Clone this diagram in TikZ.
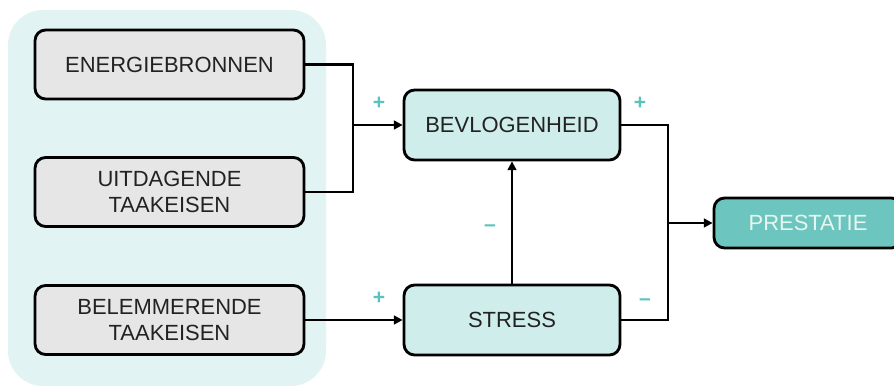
\documentclass[tikz,border=0pt]{standalone}
\usepackage{fontspec}
\setmainfont{Liberation Sans}
\usetikzlibrary{positioning, arrows.meta}
\definecolor{bgTeal}{HTML}{E1F3F2}
\definecolor{boxGray}{HTML}{E6E6E6}
\definecolor{boxTeal}{HTML}{CFEDEB}
\definecolor{darkTeal}{HTML}{6CC6BF}
\definecolor{signTeal}{HTML}{5CC3BC}
\definecolor{txtGray}{HTML}{222222}
\definecolor{txtLight}{HTML}{E8F6F0}

\begin{document}
\begin{tikzpicture}[x=0.02cm, y=-0.02cm,
              srcBlock/.style={
                rounded corners=6pt, line width=1.6pt, %inner sep=1pt,
                draw, fill=boxGray, text=txtGray, align=center,
                font=\fontsize{12.5}{15}\selectfont,
                minimum height=1.38cm, minimum width=5.38cm
             },
              midBlock/.style={srcBlock, fill=boxTeal, minimum width=4.32cm, minimum height=1.4cm},
              outBlock/.style={srcBlock, fill=darkTeal, text=txtLight, minimum width=3.76cm, minimum height=1cm},
              link/.style={line width=1.6pt},
              arrowLink/.style={link, -{Triangle[length=5pt, width=5pt]}},
              sign/.style={text=signTeal, font=\bfseries\fontsize{12}{12}\selectfont}
             ]
              \clip (0,0) rectangle (894,386);
              \fill[bgTeal, rounded corners=20pt] (8,10) rectangle (326,386);

              \node[srcBlock](ener) at (169.5,64.5){ENERGIEBRONNEN};
              \node[srcBlock](uit) at (169.5,192){UITDAGENDE\\TAAKEISEN};
              \node[srcBlock](bel) at (169.5,320){BELEMMERENDE\\TAAKEISEN};
              \node[midBlock](bev) at (512,125){BEVLOGENHEID};
              \node[midBlock](stress) at (512,320){STRESS};
              \node[outBlock](prest) at (808,223){PRESTATIE};

              \coordinate (joinA) at (353,125);
              \coordinate (joinB) at (668,223);

              \draw[link] (ener.east) -| (joinA);
              \draw[link] (uit.east) -| (joinA);
              \draw[arrowLink] (joinA) -- (bev.west);
              \draw[arrowLink] (bel.east) -- (stress.west);
              \draw[arrowLink] (stress.north) -- (bev.south);
              \draw[link] (bev.east) -| (joinB);
              \draw[link] (stress.east) -| (joinB);
              \draw[arrowLink] (joinB) -- (prest.west);

              \node[sign](p1) at (379,103){+};
              \node[sign](p2) at (640,103){+};
              \node[sign](p3) at (379,298){+};
              \node[sign](m1) at (490,228){--};
              \node[sign](m2) at (645,302){--};
            \end{tikzpicture}
\end{document}
